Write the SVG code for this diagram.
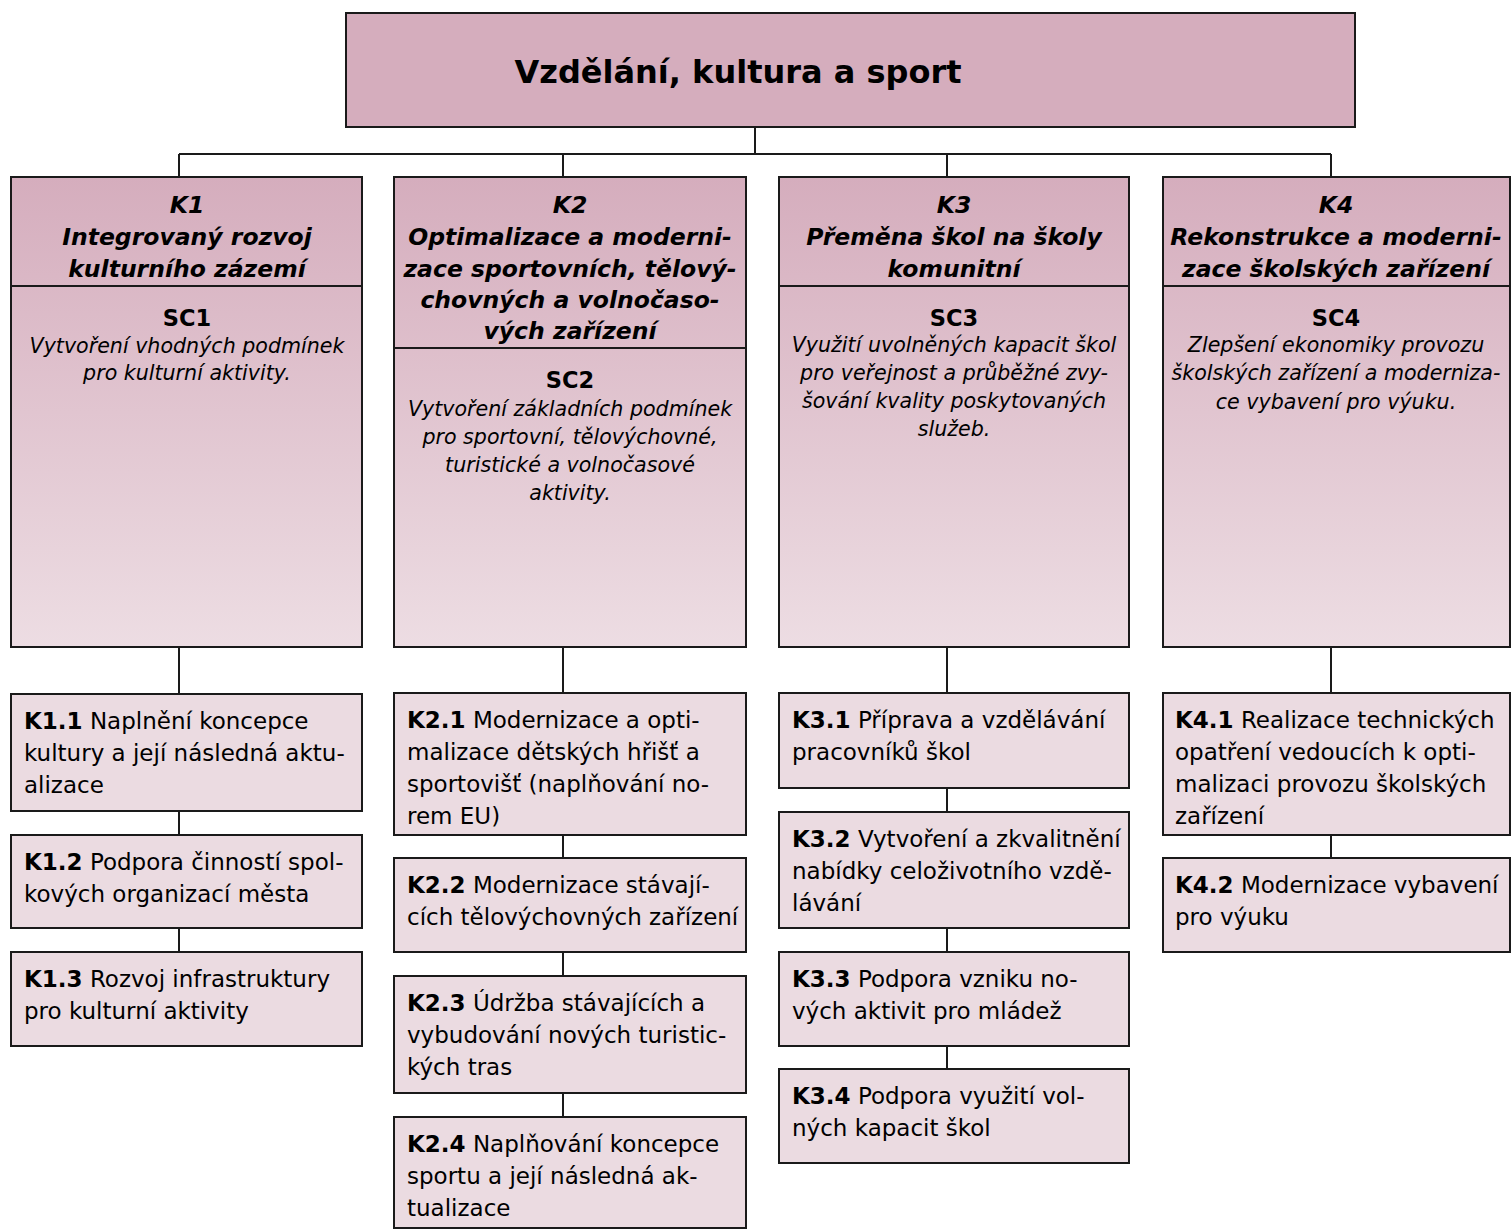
<svg xmlns="http://www.w3.org/2000/svg" width="1512" height="1230" viewBox="0 0 1512 1230">
<defs>
<linearGradient id="colg" x1="0" y1="0" x2="0" y2="1">
<stop offset="0" stop-color="#D5ADBD"/>
<stop offset="1" stop-color="#EDDDE3"/>
</linearGradient>
<style>
.box{stroke:#1a1a1a;stroke-width:2}
.top{fill:#D5ADBD}
.col{fill:url(#colg)}
.sub{fill:#EBDBE1}
.ln{stroke:#1a1a1a;stroke-width:2;fill:none}
text{font-family:"DejaVu Sans",Verdana,sans-serif;fill:#000}
.h{font-size:32px;font-weight:bold;text-anchor:middle}
.kt{font-size:23.5px;font-weight:bold;font-style:italic;text-anchor:middle}
.sc{font-size:22.5px;font-weight:bold;text-anchor:middle}
.d{font-size:20.6px;font-style:italic;text-anchor:middle}
.s{font-size:23px}
.b{font-weight:bold}
</style>
</defs>
<rect width="1512" height="1230" fill="#fff"/>
<g id="connectors" class="ln">
<line x1="755" y1="127" x2="755" y2="154"/>
<line x1="179" y1="154" x2="1331" y2="154"/>
<line x1="179" y1="154" x2="179" y2="177"/>
<line x1="563" y1="154" x2="563" y2="177"/>
<line x1="947" y1="154" x2="947" y2="177"/>
<line x1="1331" y1="154" x2="1331" y2="177"/>
<line x1="179" y1="647" x2="179" y2="694"/>
<line x1="179" y1="811" x2="179" y2="835"/>
<line x1="179" y1="928" x2="179" y2="952"/>
<line x1="563" y1="647" x2="563" y2="693"/>
<line x1="563" y1="835" x2="563" y2="858"/>
<line x1="563" y1="952" x2="563" y2="976"/>
<line x1="563" y1="1093" x2="563" y2="1117"/>
<line x1="947" y1="647" x2="947" y2="693"/>
<line x1="947" y1="788" x2="947" y2="812"/>
<line x1="947" y1="928" x2="947" y2="952"/>
<line x1="947" y1="1046" x2="947" y2="1069"/>
<line x1="1331" y1="647" x2="1331" y2="693"/>
<line x1="1331" y1="835" x2="1331" y2="858"/>
</g>
<g id="root">
<rect class="box top" x="346" y="13" width="1009" height="114"/>
<text class="h" x="738" y="83">Vzdělání, kultura a sport</text>
</g>
<g id="K1">
<rect class="box col" x="11" y="177" width="351" height="470"/>
<line class="ln" x1="11" y1="286" x2="362" y2="286"/>
<text class="kt" x="187" y="213">K1</text>
<text class="kt" x="187" y="245">Integrovaný rozvoj</text>
<text class="kt" x="187" y="277">kulturního zázemí</text>
<text class="sc" x="187" y="326">SC1</text>
<text class="d" x="187" y="353">Vytvoření vhodných podmínek</text>
<text class="d" x="187" y="380">pro kulturní aktivity.</text>
</g>
<g id="K2">
<rect class="box col" x="394" y="177" width="352" height="470"/>
<line class="ln" x1="394" y1="348" x2="746" y2="348"/>
<text class="kt" x="570" y="213">K2</text>
<text class="kt" x="570" y="245">Optimalizace a moderni-</text>
<text class="kt" x="570" y="277">zace sportovních, tělový-</text>
<text class="kt" x="570" y="308">chovných a volnočaso-</text>
<text class="kt" x="570" y="339">vých zařízení</text>
<text class="sc" x="570" y="388">SC2</text>
<text class="d" x="570" y="416">Vytvoření základních podmínek</text>
<text class="d" x="570" y="444">pro sportovní, tělovýchovné,</text>
<text class="d" x="570" y="472">turistické a volnočasové</text>
<text class="d" x="570" y="500">aktivity.</text>
</g>
<g id="K3">
<rect class="box col" x="779" y="177" width="350" height="470"/>
<line class="ln" x1="779" y1="286" x2="1129" y2="286"/>
<text class="kt" x="954" y="213">K3</text>
<text class="kt" x="954" y="245">Přeměna škol na školy</text>
<text class="kt" x="954" y="277">komunitní</text>
<text class="sc" x="954" y="326">SC3</text>
<text class="d" x="954" y="352">Využití uvolněných kapacit škol</text>
<text class="d" x="954" y="380">pro veřejnost a průběžné zvy-</text>
<text class="d" x="954" y="408">šování kvality poskytovaných</text>
<text class="d" x="954" y="436">služeb.</text>
</g>
<g id="K4">
<rect class="box col" x="1163" y="177" width="347" height="470"/>
<line class="ln" x1="1163" y1="286" x2="1510" y2="286"/>
<text class="kt" x="1336" y="213">K4</text>
<text class="kt" x="1336" y="245">Rekonstrukce a moderni-</text>
<text class="kt" x="1336" y="277">zace školských zařízení</text>
<text class="sc" x="1336" y="326">SC4</text>
<text class="d" x="1336" y="352">Zlepšení ekonomiky provozu</text>
<text class="d" x="1336" y="380">školských zařízení a moderniza-</text>
<text class="d" x="1336" y="409">ce vybavení pro výuku.</text>
</g>
<g id="K1.1">
<rect class="box sub" x="11" y="694" width="351" height="117"/>
<text class="s" x="24" y="729"><tspan class="b">K1.1</tspan> Naplnění koncepce</text>
<text class="s" x="24" y="761">kultury a její následná aktu-</text>
<text class="s" x="24" y="793">alizace</text>
</g>
<g id="K1.2">
<rect class="box sub" x="11" y="835" width="351" height="93"/>
<text class="s" x="24" y="870"><tspan class="b">K1.2</tspan> Podpora činností spol-</text>
<text class="s" x="24" y="902">kových organizací města</text>
</g>
<g id="K1.3">
<rect class="box sub" x="11" y="952" width="351" height="94"/>
<text class="s" x="24" y="987"><tspan class="b">K1.3</tspan> Rozvoj infrastruktury</text>
<text class="s" x="24" y="1019">pro kulturní aktivity</text>
</g>
<g id="K2.1">
<rect class="box sub" x="394" y="693" width="352" height="142"/>
<text class="s" x="407" y="728"><tspan class="b">K2.1</tspan> Modernizace a opti-</text>
<text class="s" x="407" y="760">malizace dětských hřišť a</text>
<text class="s" x="407" y="792">sportovišť (naplňování no-</text>
<text class="s" x="407" y="824">rem EU)</text>
</g>
<g id="K2.2">
<rect class="box sub" x="394" y="858" width="352" height="94"/>
<text class="s" x="407" y="893"><tspan class="b">K2.2</tspan> Modernizace stávají-</text>
<text class="s" x="407" y="925">cích tělovýchovných zařízení</text>
</g>
<g id="K2.3">
<rect class="box sub" x="394" y="976" width="352" height="117"/>
<text class="s" x="407" y="1011"><tspan class="b">K2.3</tspan> Údržba stávajících a</text>
<text class="s" x="407" y="1043">vybudování nových turistic-</text>
<text class="s" x="407" y="1075">kých tras</text>
</g>
<g id="K2.4">
<rect class="box sub" x="394" y="1117" width="352" height="111"/>
<text class="s" x="407" y="1152"><tspan class="b">K2.4</tspan> Naplňování koncepce</text>
<text class="s" x="407" y="1184">sportu a její následná ak-</text>
<text class="s" x="407" y="1216">tualizace</text>
</g>
<g id="K3.1">
<rect class="box sub" x="779" y="693" width="350" height="95"/>
<text class="s" x="792" y="728"><tspan class="b">K3.1</tspan> Příprava a vzdělávání</text>
<text class="s" x="792" y="760">pracovníků škol</text>
</g>
<g id="K3.2">
<rect class="box sub" x="779" y="812" width="350" height="116"/>
<text class="s" x="792" y="847"><tspan class="b">K3.2</tspan> Vytvoření a zkvalitnění</text>
<text class="s" x="792" y="879">nabídky celoživotního vzdě-</text>
<text class="s" x="792" y="911">lávání</text>
</g>
<g id="K3.3">
<rect class="box sub" x="779" y="952" width="350" height="94"/>
<text class="s" x="792" y="987"><tspan class="b">K3.3</tspan> Podpora vzniku no-</text>
<text class="s" x="792" y="1019">vých aktivit pro mládež</text>
</g>
<g id="K3.4">
<rect class="box sub" x="779" y="1069" width="350" height="94"/>
<text class="s" x="792" y="1104"><tspan class="b">K3.4</tspan> Podpora využití vol-</text>
<text class="s" x="792" y="1136">ných kapacit škol</text>
</g>
<g id="K4.1">
<rect class="box sub" x="1163" y="693" width="347" height="142"/>
<text class="s" x="1175" y="728"><tspan class="b">K4.1</tspan> Realizace technických</text>
<text class="s" x="1175" y="760">opatření vedoucích k opti-</text>
<text class="s" x="1175" y="792">malizaci provozu školských</text>
<text class="s" x="1175" y="824">zařízení</text>
</g>
<g id="K4.2">
<rect class="box sub" x="1163" y="858" width="347" height="94"/>
<text class="s" x="1175" y="893"><tspan class="b">K4.2</tspan> Modernizace vybavení</text>
<text class="s" x="1175" y="925">pro výuku</text>
</g>
</svg>
